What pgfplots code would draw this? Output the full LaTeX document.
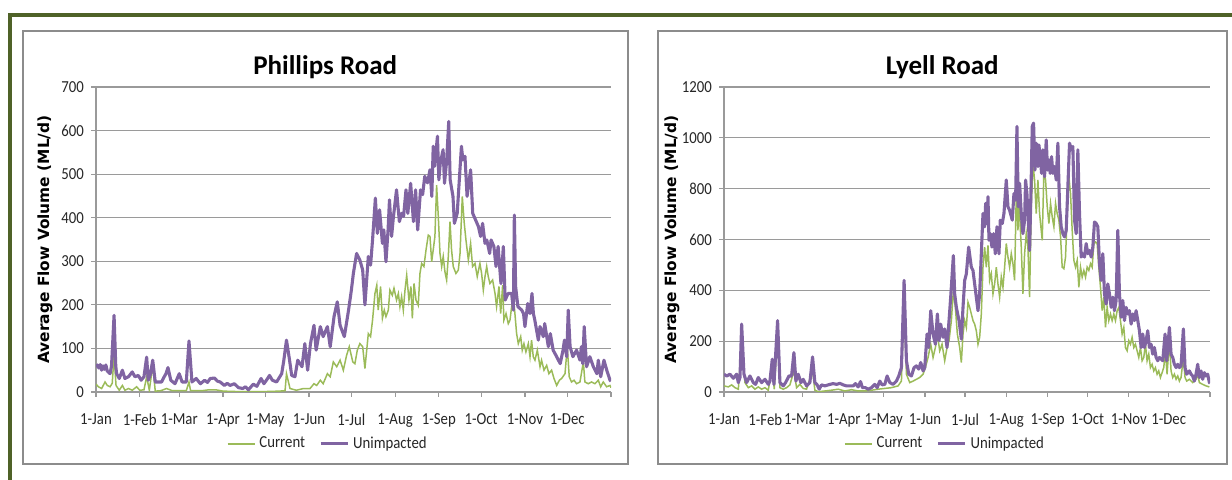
\documentclass[border=0pt]{standalone}
\usepackage{fontspec}
\setmainfont{Carlito}
\newfontfamily\tickfont{Carlito}[FakeStretch=0.88]
\newfontfamily\ylabfont{DejaVu Sans}
\usepackage{pgfplots}
\pgfplotsset{compat=1.18}
\definecolor{frameg}{HTML}{4F6228}
\definecolor{gridg}{HTML}{9A9A9A}
\definecolor{boxg}{HTML}{8C8C8C}
\definecolor{curg}{HTML}{9BBB59}
\definecolor{unip}{HTML}{8064A2}
\pgfplotsset{every axis title shift=0pt}
\pgfplotsset{flowaxis/.style={
  scale only axis, height=152.5pt,
  xmin=0, xmax=365, ymin=0,
  axis x line*=bottom, axis y line*=left,
  axis line style={draw=gridg, line width=0.6pt},
  ymajorgrids, grid style={draw=gridg, line width=0.6pt},
  xtick={0,31,59,90,120,151,181,212,243,273,304,334,365},
  xticklabels={1-Jan,1-Feb,1-Mar,1-Apr,1-May,1-Jun,1-Jul,1-Aug,1-Sep,1-Oct,1-Nov,1-Dec,{}},
  tick align=outside, major tick length=2.5pt,
  tick style={draw=gridg, line width=0.6pt},
  tick label style={font=\tickfont\fontsize{8.4}{10}\selectfont, text=black!85},
  /pgf/number format/assume math mode=true,
  /pgf/number format/1000 sep={},
  xticklabel style={yshift=-5pt},
  title style={font=\bfseries\fontsize{13.5}{16}\selectfont, anchor=base, yshift=0pt},
  ylabel style={font=\ylabfont\bfseries\fontsize{7.7}{9}\selectfont, anchor=center},
  legend style={draw=none, fill=none, font=\tickfont\fontsize{8.4}{10}\selectfont, text=black!85,
    legend columns=2, anchor=center,
    /tikz/every even column/.append style={column sep=5pt}},
  legend cell align=left,
  legend image code/.code={\draw[#1] (0pt,0pt) -- (13.5pt,0pt);},
  cur/.style={draw=curg, line width=0.75pt, mark=none},
  uni/.style={draw=unip, line width=1.55pt, mark=none, line join=round},
}}
\begin{document}
\begin{tikzpicture}
\path[use as bounding box] (0pt,0pt) rectangle (616pt,240pt);
\draw[frameg, line width=2pt] (5pt,0pt) -- (5pt,232.5pt) -- (616pt,232.5pt);
\draw[boxg, line width=0.8pt] (11.5pt,8pt) rectangle (314pt,224.5pt);
\draw[boxg, line width=0.8pt] (329pt,8pt) rectangle (613.5pt,224.5pt);

\begin{axis}[flowaxis, at={(48pt,44pt)}, anchor=south west, width=257.5pt,
  ymax=700, ytick={0,100,...,700},
  title={Phillips Road}, title style={at={(axis description cs:0.445,1.042)}},
  ylabel={Average Flow Volume (ML/d)}, ylabel style={at={(axis description cs:-0.099,0.5)}},
  legend style={at={(0.452,-0.17)}}]
\addplot[cur] coordinates {(0,18)(1.7,12)(4,8)(6.4,23)(8,15)(10,12)(11.5,20)(12.8,84)(14.2,15)(16.5,4)(18.7,15)(20.5,4)(23,8)(25.7,4)(28.8,12)(31,4)(34,5)(35.9,35)(37.8,4)(40.2,61)(42,2)(46,3)(50,8)(54,3)(60,3)(64,3)(65.9,23)(67,3)(75,3)(80,5)(85,5)(90,2)(100,1)(110,1)(120,1)(130,2)(134,3)(135,42)(137.5,8)(142,4)(147,8)(151.7,8)(154.5,19)(156.4,15)(159,27)(161,19)(164,42)(166,35)(168.2,69)(170.6,58)(173,73)(175.3,50)(177.6,84)(179.5,104)(182,69)(183.5,65)(185.2,96)(187,111)(189,104)(190.6,54)(193,134)(194.6,127)(196,165)(197.7,226)(199,245)(200,188)(201.7,242)(203,169)(204.3,188)(205.5,173)(207.2,188)(208.3,234)(210,222)(211.2,238)(213,211)(214.3,226)(215.4,196)(216.6,219)(217.8,188)(219,234)(220.2,268)(221.8,211)(223.2,242)(224.2,169)(225.4,249)(226.8,211)(228.4,199)(229.6,272)(230.8,295)(232.4,288)(233.9,326)(235.5,360)(236.7,357)(237.9,299)(239,326)(240.2,357)(241.4,475)(242.6,403)(243.8,318)(245,288)(246.1,311)(247.3,276)(248.5,257)(249.7,311)(250.9,391)(252,326)(253.2,288)(255.1,272)(256.8,280)(258,318)(259.6,449)(261,387)(262.2,349)(263.9,303)(265.5,341)(266.9,288)(268.6,295)(270.2,265)(272.1,295)(273.3,272)(274.5,234)(275.7,265)(276.9,288)(278,265)(279.2,249)(281.1,257)(282.8,226)(283.9,196)(285.6,242)(286.8,180)(288.2,245)(289.1,165)(290.6,180)(292.2,157)(293.4,165)(294.6,196)(295.8,219)(296.9,180)(298.1,134)(299.3,111)(301,127)(302.1,96)(303.3,111)(304.7,92)(306.4,111)(307.6,81)(308.7,119)(309.9,81)(311.1,73)(312.8,96)(314.7,58)(315.8,73)(317.5,50)(319.4,61)(321,42)(322.9,50)(324.6,31)(326.5,15)(328.4,27)(330,31)(332.4,42)(334,104)(335.4,35)(337,23)(338.8,27)(340.6,19)(343,23)(345.4,69)(346.5,23)(348.9,19)(351.2,23)(353.6,19)(356,27)(357.7,12)(359.5,23)(361.9,12)(364.3,15)(365,10)};
\addlegendentry{Current}
\addplot[uni] coordinates {(0,57)(1,62)(2,55)(3,63)(4,50)(5,60)(6,52)(7,62)(8,48)(9,45)(10,42)(11,60)(12.8,176)(14,60)(14.6,42)(16.5,31)(18.7,50)(20.5,31)(23,35)(25.7,46)(27.6,35)(30,38)(32,27)(34,35)(35.9,80)(37,27)(38.5,40)(40.2,73)(42,23)(44,23)(46.5,23)(48,33)(49.6,42)(51,56)(53,27)(56,19)(59,42)(61,23)(64,23)(65.9,117)(68,23)(71,31)(74,19)(77,27)(79,22)(81,31)(84,32)(86,25)(88,23)(91,15)(93,20)(95,15)(98,19)(101,10)(104,8)(106,12)(108,5)(111.5,18)(114,13)(117,31)(119,19)(121,28)(123,38)(125,27)(128,23)(131.6,42)(133,70)(135,119)(137,77)(138.7,38)(141,35)(143,73)(146,58)(148,111)(150,50)(152,111)(154.5,153)(156,96)(159,150)(161,127)(164,150)(166,104)(168.7,173)(171,207)(173,153)(176,127)(179,188)(181,234)(182.4,272)(184.7,318)(187,303)(189,280)(190.6,200)(193,311)(194.6,291)(196,349)(198,445)(199.4,364)(201,418)(203,341)(204,372)(205.5,299)(207,372)(208,441)(209.5,357)(210.7,399)(213,464)(215,391)(216.6,410)(218,403)(219.7,464)(221,410)(223,479)(225,391)(226.5,464)(228,372)(230,464)(231.5,453)(233,495)(235,480)(236.7,510)(238,449)(239,564)(240,518)(242,587)(243,487)(244,525)(246,556)(247,479)(248.5,530)(250,621)(251,487)(253,449)(254,387)(256,410)(259,564)(260,533)(261.5,541)(263,449)(265.5,510)(267,410)(269,395)(271,380)(272.6,357)(274,387)(275.7,341)(277,349)(279,318)(280,349)(282,334)(283.5,288)(285,334)(287,249)(288.7,334)(290,211)(292,226)(294.6,226)(295.8,188)(296.5,406)(297.4,242)(299,196)(301.7,188)(303,180)(304,150)(306,203)(307.6,180)(309,226)(310,180)(311,165)(313.5,119)(314.7,150)(317,127)(318,157)(320.6,104)(322,134)(324,96)(326.5,81)(329,65)(331,96)(332,119)(333.6,81)(334.7,188)(336,104)(338,81)(340.6,96)(343,73)(344,104)(345,65)(346,150)(347.7,58)(350,81)(352.5,58)(355,42)(356,73)(357.7,35)(360,73)(362,50)(364.3,27)(365,25)};
\addlegendentry{Unimpacted}
\end{axis}

\begin{axis}[flowaxis, at={(362pt,44pt)}, anchor=south west, width=243pt,
  ymax=1200, ytick={0,200,...,1200},
  title={Lyell Road}, title style={at={(axis description cs:0.449,1.042)}},
  ylabel={Average Flow Volume (ML/d)}, ylabel style={at={(axis description cs:-0.107,0.5)}},
  legend style={at={(0.457,-0.17)}}]
\addplot[cur] coordinates {(0,24)(3.25,20)(5.75,28)(8.25,17)(10.75,11)(13.25,180)(15.75,37)(18.25,17)(20.75,24)(23.25,11)(25.75,20)(28.25,11)(30.75,17)(33.25,7)(36.25,96)(37.75,11)(40.25,228)(42,17)(44.5,11)(47,17)(49.5,28)(52.5,83)(54.5,17)(57,30)(59.5,14)(62,11)(66.5,83)(68.25,7)(70.75,1)(75.75,4)(80.75,7)(85.75,11)(90.75,4)(95.75,9)(100.75,4)(105.75,4)(110.75,7)(115.75,11)(120.75,14)(125.75,17)(130.75,24)(133.25,43)(135.25,360)(137,70)(139.5,37)(142,43)(144.5,50)(147,57)(149.5,70)(151.25,96)(153.25,136)(155.25,188)(157,136)(158.75,175)(160.25,228)(162,162)(163.75,188)(165.75,123)(167.5,175)(169,202)(170.75,281)(172.25,399)(173.75,333)(175.25,228)(177,175)(178.25,116)(179.5,228)(180.75,281)(182,254)(183.25,353)(184.5,333)(185.75,307)(187,281)(188.25,267)(189.5,241)(190.75,188)(192,215)(193.25,307)(194.5,491)(195.75,570)(197,491)(198.25,577)(199.5,439)(200.75,465)(202,386)(203.25,425)(204.5,491)(205.75,425)(207,373)(208.25,452)(209.5,412)(210.75,491)(212,584)(213.25,531)(214.5,491)(215.75,544)(217,505)(218.25,439)(219.5,781)(220.75,636)(221.5,755)(223.25,570)(224.5,386)(225.75,544)(227,623)(228.25,570)(229.5,373)(230.75,729)(232,900)(233.25,834)(234.5,702)(235.75,834)(237,702)(239,597)(240.25,873)(241.5,834)(242.75,729)(244,663)(245.25,742)(246.5,689)(247.75,650)(249,742)(250.25,702)(251.5,676)(252.75,610)(254,491)(255.25,485)(256.5,531)(257.75,702)(259,847)(260.25,781)(261.5,636)(262.75,518)(264,491)(265.25,518)(266.5,412)(267.75,491)(269,452)(270.25,478)(271.5,452)(272.75,491)(274,478)(275.25,505)(276.5,491)(277.75,584)(279,590)(280.25,584)(281.5,491)(282.75,412)(284,320)(285.25,373)(286.5,254)(287.75,333)(289,281)(290.25,307)(291.5,281)(292.75,307)(294,281)(295.25,320)(296.5,333)(297.75,281)(299,228)(300.25,254)(301.5,175)(302.75,162)(304,202)(305.25,188)(306.5,215)(307.75,175)(309,188)(310.25,162)(311.5,136)(312.75,175)(314,123)(315.25,136)(316.5,188)(317.75,123)(319,149)(320.25,96)(321.5,109)(322.75,83)(324,96)(325.25,70)(326.5,83)(327.75,57)(329,76)(330.25,96)(331.5,162)(332.75,70)(334.5,202)(335.75,83)(337,57)(338.25,70)(339.5,50)(340.75,63)(342,43)(343.25,57)(345,136)(346.25,57)(347.5,43)(349.5,50)(352,37)(354.5,50)(355.75,70)(357,37)(359.5,30)(362,24)(364.5,20)};
\addlegendentry{Current}
\addplot[uni] coordinates {(0,70)(2,63)(4.5,70)(7,54)(9.5,70)(10.75,37)(12,57)(13.25,267)(15,70)(17,37)(19.5,63)(22,37)(23.75,30)(25.75,57)(28.25,37)(30.75,50)(33.25,30)(34.5,43)(36.25,129)(37.5,30)(40.25,281)(42,37)(44.5,24)(46.25,37)(48.75,63)(50.75,63)(52.5,155)(54,43)(55.75,70)(57.75,37)(59.5,50)(62,24)(64.5,37)(66.5,138)(68.25,37)(70,28)(71.5,11)(73.25,28)(75.75,24)(79.5,30)(82,33)(84.5,30)(87,34)(89.5,28)(92,24)(94.5,24)(97,24)(98.75,33)(100.75,20)(102.5,41)(104,17)(106.25,17)(108.25,11)(110.75,17)(113.25,30)(115,17)(117,43)(118.75,28)(120.75,30)(122.5,63)(124.5,37)(127,30)(129.5,43)(131.25,63)(133.25,96)(135.25,439)(137,123)(138.75,70)(140.75,63)(142.75,96)(144.5,103)(146.25,90)(147.75,116)(149.5,83)(150.75,96)(152.5,228)(153.75,175)(155.25,320)(157,228)(158.75,188)(160.25,307)(161.5,202)(162.75,267)(164.5,215)(165.75,248)(167.5,175)(169,281)(170.25,373)(172.25,537)(173.25,386)(174.5,333)(176.5,281)(178.25,208)(179.5,333)(180.75,439)(182,465)(183.75,570)(185.75,491)(187,478)(188.25,425)(189.5,373)(190.75,320)(192,386)(193.25,544)(194.5,702)(195.75,650)(196.5,742)(197.5,663)(198.25,768)(199,597)(200,623)(201.25,570)(202.5,623)(203.75,544)(205,650)(206.5,544)(207.5,676)(209,663)(210.25,702)(212,834)(213.25,729)(214.5,715)(216.5,676)(217.75,781)(219,755)(220,1045)(221,729)(222,821)(223.25,702)(224.5,623)(225.75,676)(226.5,834)(227.5,781)(228.75,650)(229.5,557)(230.5,781)(231.5,1045)(232.5,1058)(233.5,873)(234.5,979)(235.75,887)(236.5,972)(237.5,926)(238.5,860)(239.5,953)(240.75,847)(242,992)(243,873)(244,913)(245,860)(246,926)(247,860)(248.25,887)(249.5,834)(250.75,979)(252,729)(253.25,650)(254.5,623)(255.75,610)(257,636)(258.25,808)(259.5,979)(261,953)(262,966)(263.25,676)(264.5,623)(265.75,953)(267,702)(268.25,531)(269.5,544)(270.75,531)(272,584)(273.25,544)(274.5,557)(275.75,531)(277,570)(278.25,669)(279.5,663)(280.75,650)(282,505)(283.25,439)(284.5,544)(285.75,386)(287,346)(288.25,425)(289.5,386)(290.75,333)(292,373)(293.25,320)(294.5,360)(295.75,636)(297,386)(298.25,294)(299.5,360)(300.75,281)(302,333)(303.25,307)(304.5,320)(305.75,267)(307,307)(308.25,281)(309.5,320)(310.75,281)(312,241)(313.25,175)(314.5,228)(315.75,175)(317,202)(318.25,241)(319.5,175)(320.75,188)(322,149)(323.25,175)(324.5,136)(325.75,123)(327,136)(329.5,123)(331.25,228)(332.5,123)(334.5,254)(335.75,149)(337,136)(338.25,109)(339.5,96)(340.75,109)(342,96)(343.25,103)(345,248)(346.25,96)(347.5,70)(349.5,83)(350.75,70)(352,63)(353.25,43)(354.5,70)(355.75,109)(357,57)(358.25,83)(359.5,50)(360.75,76)(362,63)(363.25,70)(364.5,37)(365,35)};
\addlegendentry{Unimpacted}
\end{axis}
\end{tikzpicture}
\end{document}
